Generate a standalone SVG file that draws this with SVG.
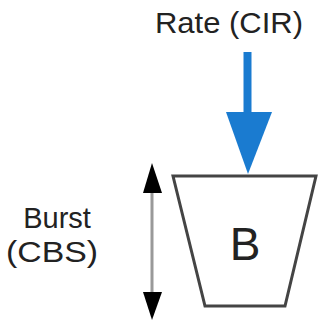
<svg xmlns="http://www.w3.org/2000/svg" width="320" height="320" viewBox="0 0 320 320">
<style>
.t{font-family:"Liberation Sans",Arial,sans-serif;fill:#222}
</style>
<rect width="320" height="320" fill="#fff"/>
<g id="rate-label"><text class="t" x="229" y="33" font-size="29" text-anchor="middle" textLength="148" lengthAdjust="spacingAndGlyphs">Rate (CIR)</text></g>
<g id="burst-label">
<text class="t" x="57" y="228" font-size="29" text-anchor="middle">Burst</text>
<text class="t" x="52" y="262" font-size="29" text-anchor="middle" textLength="92" lengthAdjust="spacingAndGlyphs">(CBS)</text>
</g>
<g id="bucket">
<polygon points="173,176 316,176 285,306 205,306" fill="#fff" stroke="#444" stroke-width="3" stroke-linejoin="miter"/>
<text class="t" x="245" y="260" font-size="46" text-anchor="middle">B</text>
</g>
<g id="connectors">
<line x1="247.5" y1="52" x2="247.5" y2="114" stroke="#1a7bd0" stroke-width="8"/>
<polygon points="226,112 272,112 248,174" fill="#1a7bd0"/>
<line x1="152" y1="190" x2="152" y2="295" stroke="#999" stroke-width="3"/>
<polygon points="152,163 143,193 162,193" fill="#000"/>
<polygon points="152,320 143,292 162,292" fill="#000"/>
</g>
</svg>
